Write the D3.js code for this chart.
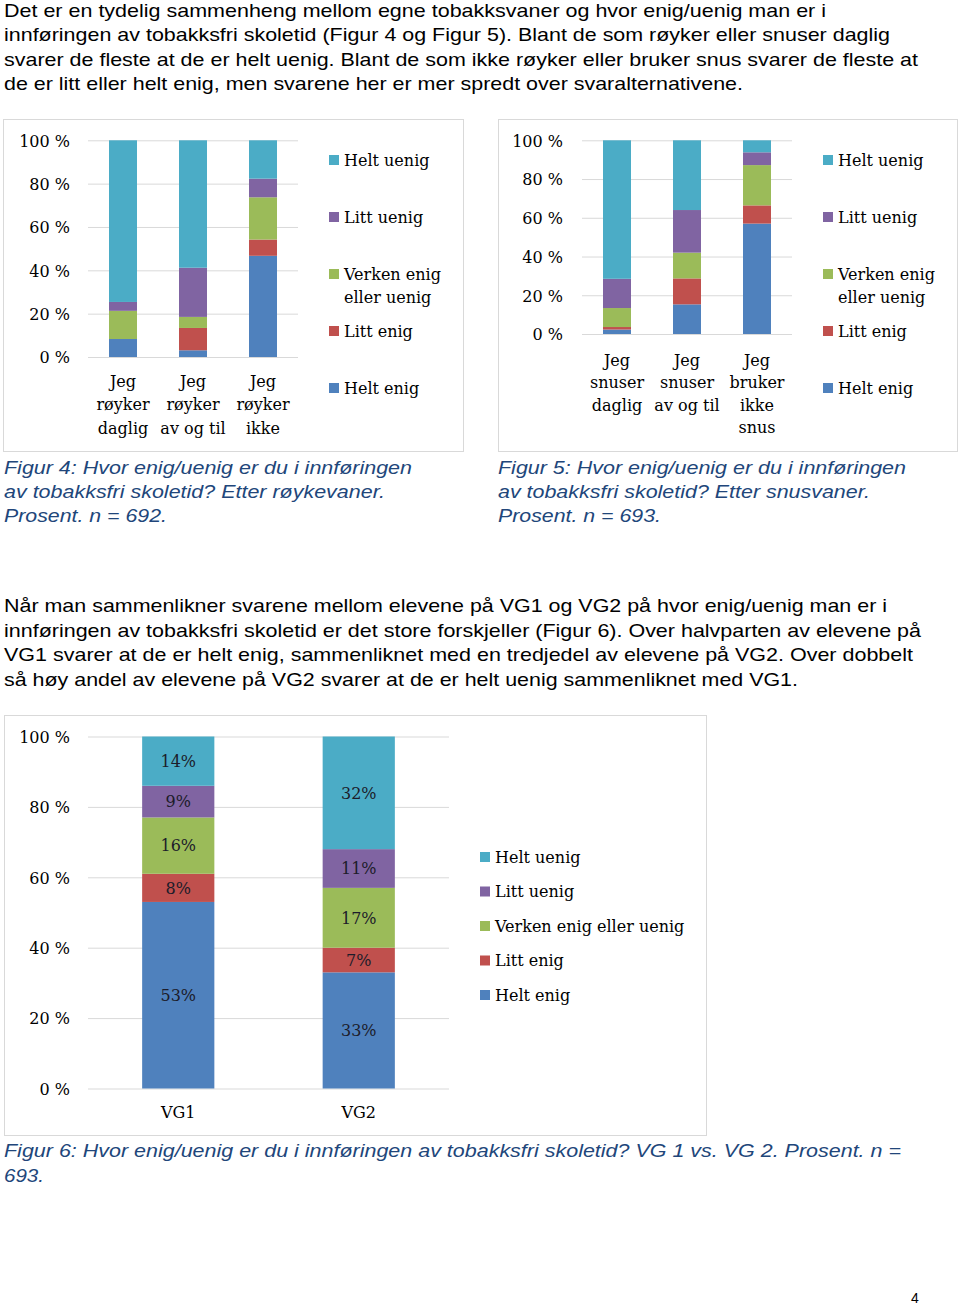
<!DOCTYPE html>
<html>
<head>
<meta charset="utf-8">
<script src="https://cdn.jsdelivr.net/npm/d3@7"></script>
<style>
  body { margin: 0; background: #fff; }
  svg { display: block; }
</style>
</head>
<body>
<div id="page"></div>
<script>
// Answer categories, bottom of the stack first
const categories = ["Helt enig", "Litt enig", "Verken enig eller uenig", "Litt uenig", "Helt uenig"];
const categoryColors = ["#4f81bd", "#c0504d", "#9bbb59", "#8064a2", "#4bacc6"];
const percentTicks = [0, 20, 40, 60, 80, 100];

// Figur 4: etter røykevaner
const smokeGroups = [["Jeg", "røyker", "daglig"], ["Jeg", "røyker", "av og til"], ["Jeg", "røyker", "ikke"]];
const smokeValues = [
  [8.3, 0, 13.0, 4.1, 74.6],
  [3.1, 10.3, 5.1, 22.7, 58.8],
  [46.7, 7.5, 19.5, 8.6, 17.7]
];

// Figur 5: etter snusvaner
const snusGroups = [["Jeg", "snuser", "daglig"], ["Jeg", "snuser", "av og til"], ["Jeg", "bruker", "ikke", "snus"]];
const snusValues = [
  [2.3, 1.3, 9.8, 15.1, 71.5],
  [15.3, 13.4, 13.3, 22.0, 36.0],
  [57.0, 9.4, 20.8, 6.6, 6.2]
];

// Figur 6: VG1 vs VG2
const vgGroups = [["VG1"], ["VG2"]];
const vgValues = [
  [53, 8, 16, 9, 14],
  [33, 7, 17, 11, 32]
];

// Body text lines (with the x where each line ends in the page)
const introLines = [
  ["Det er en tydelig sammenheng mellom egne tobakksvaner og hvor enig/uenig man er i", 826],
  ["innføringen av tobakksfri skoletid (Figur 4 og Figur 5). Blant de som røyker eller snuser daglig", 890],
  ["svarer de fleste at de er helt uenig. Blant de som ikke røyker eller bruker snus svarer de fleste at", 918],
  ["de er litt eller helt enig, men svarene her er mer spredt over svaralternativene.", 743]
];
const vgLines = [
  ["Når man sammenlikner svarene mellom elevene på VG1 og VG2 på hvor enig/uenig man er i", 887],
  ["innføringen av tobakksfri skoletid er det store forskjeller (Figur 6). Over halvparten av elevene på", 921],
  ["VG1 svarer at de er helt enig, sammenliknet med en tredjedel av elevene på VG2. Over dobbelt", 913],
  ["så høy andel av elevene på VG2 svarer at de er helt uenig sammenliknet med VG1.", 798]
];
const caption4 = [["Figur 4: Hvor enig/uenig er du i innføringen", 412], ["av tobakksfri skoletid? Etter røykevaner.", 385], ["Prosent. n = 692.", 167]];
const caption5 = [["Figur 5: Hvor enig/uenig er du i innføringen", 906], ["av tobakksfri skoletid? Etter snusvaner.", 870], ["Prosent. n = 693.", 661]];
const caption6 = [["Figur 6: Hvor enig/uenig er du i innføringen av tobakksfri skoletid? VG 1 vs. VG 2. Prosent. n =", 901], ["693.", 44]];

const serif = "'DejaVu Serif', serif";
const sans = "'Liberation Sans', Arial, sans-serif";

const svg = d3.select('#page').append('svg')
  .attr('width', 960)
  .attr('height', 1308);

svg.append('rect').attr('width', 960).attr('height', 1308).attr('fill', '#fff');

function textBlock(lines, x0, firstBaseline, lineStep, opts) {
  lines.forEach(([txt, xEnd], i) => {
    svg.append('text')
      .attr('x', x0)
      .attr('y', firstBaseline + i * lineStep)
      .attr('font-family', sans)
      .attr('font-size', opts.size)
      .attr('fill', opts.color)
      .attr('font-style', opts.italic ? 'italic' : 'normal')
      .attr('textLength', xEnd - x0)
      .attr('lengthAdjust', 'spacingAndGlyphs')
      .text(txt);
  });
}

function drawStacked(cfg) {
  const g = svg.append('g');

  // chart frame
  g.append('rect')
    .attr('x', cfg.frame[0] + 0.5).attr('y', cfg.frame[1] + 0.5)
    .attr('width', cfg.frame[2] - cfg.frame[0]).attr('height', cfg.frame[3] - cfg.frame[1])
    .attr('fill', 'none').attr('stroke', '#d9d9d9').attr('stroke-width', 1);

  const x = d3.scaleBand()
    .domain(d3.range(cfg.groups.length))
    .range([cfg.plotX0, cfg.plotX1])
    .paddingInner(0.6)
    .paddingOuter(0.3);

  const y = d3.scaleLinear().domain([0, 100]).range([cfg.y0, cfg.y100]);

  // gridlines
  const grid = g.append('g')
    .attr('transform', `translate(${cfg.plotX0},0)`)
    .call(d3.axisLeft(y).tickValues(percentTicks).tickSize(-(cfg.plotX1 - cfg.plotX0)).tickFormat(''));
  grid.select('.domain').remove();
  grid.selectAll('.tick line').attr('stroke', '#d9d9d9').attr('stroke-width', 1);

  // tick labels
  const axis = g.append('g')
    .attr('transform', `translate(${cfg.plotX0},0)`)
    .call(d3.axisLeft(y).tickValues(percentTicks).tickSize(0).tickPadding(cfg.labelPad).tickFormat(d => d + ' %'));
  axis.select('.domain').remove();
  axis.selectAll('text')
    .attr('font-family', serif)
    .attr('font-size', 16)
    .attr('fill', '#000')
    .attr('dy', '0.36em');

  // stacked bars
  const rows = cfg.values.map((v, i) => {
    const r = { idx: i };
    categories.forEach((c, j) => { r[c] = v[j]; });
    return r;
  });
  const series = d3.stack().keys(categories)(rows);

  const layers = g.selectAll('.layer')
    .data(series)
    .enter()
    .append('g')
    .attr('class', 'layer')
    .attr('fill', (d, i) => categoryColors[i]);

  layers.selectAll('rect')
    .data(d => d)
    .enter()
    .append('rect')
    .attr('x', d => x(d.data.idx))
    .attr('width', x.bandwidth())
    .attr('y', d => y(d[1]))
    .attr('height', d => y(d[0]) - y(d[1]));

  if (cfg.showValues) {
    layers.selectAll('text')
      .data(d => d.map(p => ({ p: p, key: d.key })))
      .enter()
      .append('text')
      .attr('x', d => x(d.p.data.idx) + x.bandwidth() / 2)
      .attr('y', d => (y(d.p[0]) + y(d.p[1])) / 2)
      .attr('dy', '0.36em')
      .attr('text-anchor', 'middle')
      .attr('font-family', serif)
      .attr('font-size', 16)
      .attr('fill', '#1c1c2a')
      .text(d => d.p.data[d.key] + '%');
  }

  // category labels
  cfg.groups.forEach((lines, i) => {
    const t = g.append('text')
      .attr('text-anchor', 'middle')
      .attr('font-family', serif)
      .attr('font-size', 16)
      .attr('fill', '#000');
    lines.forEach((ln, k) => {
      t.append('tspan')
        .attr('x', x(i) + x.bandwidth() / 2)
        .attr('y', cfg.catY + k * cfg.catStep + 5)
        .text(ln);
    });
  });

  // legend, top item = last category
  const legendItems = categories.map((c, i) => ({ name: c, color: categoryColors[i] })).reverse();
  legendItems.forEach((item, i) => {
    const cy = cfg.legendY + i * cfg.legendStep;
    g.append('rect')
      .attr('x', cfg.legendX).attr('y', cy - 5)
      .attr('width', 10).attr('height', 10)
      .attr('fill', item.color);
    const t = g.append('text')
      .attr('font-family', serif)
      .attr('font-size', 16)
      .attr('fill', '#000');
    const lines = cfg.wrapLegend && item.name === "Verken enig eller uenig"
      ? ["Verken enig", "eller uenig"] : [item.name];
    lines.forEach((ln, k) => {
      t.append('tspan')
        .attr('x', cfg.legendX + 15)
        .attr('y', cy + k * 23 + 5.5)
        .text(ln);
    });
  });
}

// paragraph above the first two charts
textBlock(introLines, 4, 16.7, 24.5, { size: 19, color: '#000' });

drawStacked({
  frame: [3, 119, 463, 451],
  groups: smokeGroups, values: smokeValues,
  plotX0: 88, plotX1: 298, y0: 357, y100: 140.3, labelPad: 18,
  catY: 382, catStep: 23.3,
  legendX: 329, legendY: 160, legendStep: 57, wrapLegend: true
});

drawStacked({
  frame: [498, 119, 957, 451],
  groups: snusGroups, values: snusValues,
  plotX0: 582, plotX1: 792, y0: 334, y100: 140.3, labelPad: 19,
  catY: 361, catStep: 22.3,
  legendX: 823, legendY: 160, legendStep: 57, wrapLegend: true
});

textBlock(caption4, 4, 473.5, 24.3, { size: 19, color: '#21467a', italic: true });
textBlock(caption5, 498, 473.5, 24.3, { size: 19, color: '#21467a', italic: true });

textBlock(vgLines, 4, 612, 24.5, { size: 19, color: '#000' });

drawStacked({
  frame: [4, 715, 706, 1135],
  groups: vgGroups, values: vgValues,
  plotX0: 88, plotX1: 449, y0: 1088.5, y100: 736.5, labelPad: 18,
  catY: 1113, catStep: 22,
  legendX: 480, legendY: 857, legendStep: 34.5, wrapLegend: false,
  showValues: true
});

textBlock(caption6, 4, 1157, 24.5, { size: 19, color: '#21467a', italic: true });

// page number
svg.append('text')
  .attr('x', 915).attr('y', 1303)
  .attr('text-anchor', 'middle')
  .attr('font-family', sans)
  .attr('font-size', 14)
  .attr('fill', '#000')
  .text('4');
</script>
</body>
</html>
